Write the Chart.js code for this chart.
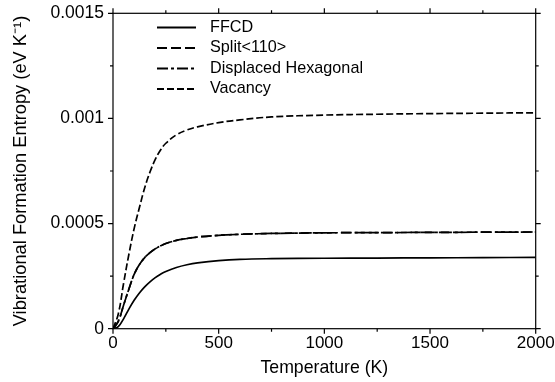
<!DOCTYPE html>
<html>
<head>
<meta charset="utf-8">
<title>Vibrational Formation Entropy</title>
<script src="https://cdn.jsdelivr.net/npm/chart.js@4/dist/chart.umd.min.js"></script>
<style>
  html, body { margin: 0; padding: 0; background: #fff; }
  #wrap { width: 555px; height: 382px; }
</style>
</head>
<body>
<div id="wrap"><canvas id="entropy" width="555" height="382"></canvas></div>
<script>
// ── Data ───────────────────────────────────────────────────────────────────

const temps = [0, 25, 50, 75, 100, 125, 150, 175, 200, 225, 250, 300, 350, 400, 500, 600, 750, 1000, 1250, 1500, 1750, 2000];

const ffcd = [0, 0.00001, 0.000047, 0.000093, 0.000135, 0.00017, 0.000199, 0.000223, 0.000243, 0.000259, 0.000272,
  0.000291, 0.000304, 0.000313, 0.000324, 0.00033, 0.000333, 0.000335, 0.000336, 0.000337, 0.000338, 0.000339];

const split110 = [0, 0.000035, 0.000112, 0.000188, 0.000258, 0.000305, 0.000338, 0.000362, 0.00038, 0.000394, 0.000405,
  0.00042, 0.000429, 0.000436, 0.000444, 0.000449, 0.000453, 0.000456, 0.000457, 0.000458, 0.000459, 0.00046];

const displacedHex = [0, 0.000035, 0.000112, 0.000188, 0.000258, 0.000305, 0.000338, 0.000362, 0.00038, 0.000394, 0.000405,
  0.00042, 0.000429, 0.000436, 0.000444, 0.000449, 0.000453, 0.000456, 0.000457, 0.000458, 0.000459, 0.00046];

const vacancy = [0, 0.00007, 0.000215, 0.000353, 0.000476, 0.000576, 0.00067, 0.000745, 0.000805, 0.00085, 0.000882,
  0.000922, 0.000945, 0.00096, 0.00098, 0.000993, 0.001007, 0.001016, 0.00102, 0.001023, 0.001025, 0.001027];

const seriesNames = ['FFCD', 'Split<110>', 'Displaced Hexagonal', 'Vacancy'];
const seriesDash  = [[], [10, 4], [11, 3, 3, 3], [7, 3]];

const xTicks = { min: 0, max: 2000, step: 250, labelEvery: 500 };
const yTicks = { min: 0, max: 0.0015, step: 0.00025, labelEvery: 0.0005 };

const FONT = '"Liberation Sans", Arial, Helvetica, sans-serif';
const INK  = '#000';

// ── Plugins ────────────────────────────────────────────────────────────────

/** Boxed frame with outward ticks on all four sides (long = labelled). */
const framePlugin = {
  id: 'frame',
  afterDraw(chart) {
    const { ctx, chartArea: a, scales: { x, y } } = chart;
    ctx.save();
    ctx.strokeStyle = INK;
    ctx.lineWidth = 1.2;
    ctx.strokeRect(a.left, a.top, a.right - a.left, a.bottom - a.top);

    ctx.beginPath();
    x.ticks.forEach(t => {
      const px = x.getPixelForValue(t.value);
      const len = Math.round(t.value / xTicks.step) % 2 === 0 ? 5 : 3;
      ctx.moveTo(px, a.bottom); ctx.lineTo(px, a.bottom + len);
      ctx.moveTo(px, a.top);    ctx.lineTo(px, a.top - len);
    });
    y.ticks.forEach(t => {
      const py = y.getPixelForValue(t.value);
      const len = Math.round(t.value / yTicks.step) % 2 === 0 ? 5 : 3;
      ctx.moveTo(a.left, py);  ctx.lineTo(a.left - len, py);
      ctx.moveTo(a.right, py); ctx.lineTo(a.right + len, py);
    });
    ctx.stroke();
    ctx.restore();
  },
};

/** Legend drawn inside the plot, upper left, one row per dataset. */
const insetLegend = {
  id: 'insetLegend',
  afterDraw(chart) {
    const { ctx } = chart;
    const rows = [27.5, 48, 68.5, 89];
    ctx.save();
    ctx.font = '16.2px ' + FONT;
    ctx.fillStyle = INK;
    ctx.strokeStyle = INK;
    ctx.lineWidth = 1.8;
    ctx.textBaseline = 'middle';
    chart.data.datasets.forEach((ds, i) => {
      const yy = rows[i];
      ctx.setLineDash(ds.borderDash || []);
      ctx.beginPath();
      ctx.moveTo(157, yy);
      ctx.lineTo(196, yy);
      ctx.stroke();
      ctx.setLineDash([]);
      ctx.fillText(ds.label, 210, yy);
    });
    ctx.restore();
  },
};

// ── Chart ──────────────────────────────────────────────────────────────────

const toPoints = vals => vals.map((v, i) => ({ x: temps[i], y: v }));

const datasets = [ffcd, split110, displacedHex, vacancy].map((vals, i) => ({
  label:        seriesNames[i],
  data:         toPoints(vals),
  borderColor:  INK,
  borderWidth:  1.7,
  borderDash:   seriesDash[i],
  pointRadius:  0,
  fill:         false,
  tension:      0.4,
}));

new Chart(document.getElementById('entropy'), {
  type: 'line',
  data: { datasets },
  options: {
    responsive: false,
    animation: false,
    devicePixelRatio: 1,
    layout: { padding: { top: 13.3, right: 19.3, left: 0, bottom: 0 } },
    plugins: {
      legend:  { display: false },
      tooltip: { enabled: false },
    },
    scales: {
      x: {
        type: 'linear',
        min: xTicks.min,
        max: xTicks.max,
        // fixed band under the plot; edge labels may overhang the padding
        afterFit: s => { s.height = 53.3; s.paddingLeft = 0; s.paddingRight = 0; },
        grid:   { display: false, drawTicks: false },
        border: { display: false },
        ticks: {
          stepSize: xTicks.step,
          autoSkip: false,
          maxRotation: 0,
          padding: 4,
          color: INK,
          font: { family: FONT, size: 17 },
          callback: v => (v % xTicks.labelEvery === 0 ? String(v) : ''),
        },
        title: {
          display: true,
          text: 'Temperature (K)',
          color: INK,
          font: { family: FONT, size: 17.7 },
          padding: { top: 0, bottom: 3 },
        },
      },
      y: {
        type: 'linear',
        min: yTicks.min,
        max: yTicks.max,
        afterFit: s => { s.width = 113; s.paddingTop = 0; s.paddingBottom = 0; },
        grid:   { display: false, drawTicks: false },
        border: { display: false },
        ticks: {
          stepSize: yTicks.step,
          autoSkip: false,
          padding: 9,
          color: INK,
          font: { family: FONT, size: 17.5 },
          callback: v => (Math.round(v / yTicks.step) % 2 === 0 ? String(v) : ''),
        },
        title: {
          display: true,
          text: 'Vibrational Formation Entropy (eV K\u207B\u00B9)',
          color: INK,
          font: { family: FONT, size: 18.3 },
          padding: { top: 10, bottom: 0 },
        },
      },
    },
  },
  plugins: [framePlugin, insetLegend],
});
</script>
</body>
</html>
